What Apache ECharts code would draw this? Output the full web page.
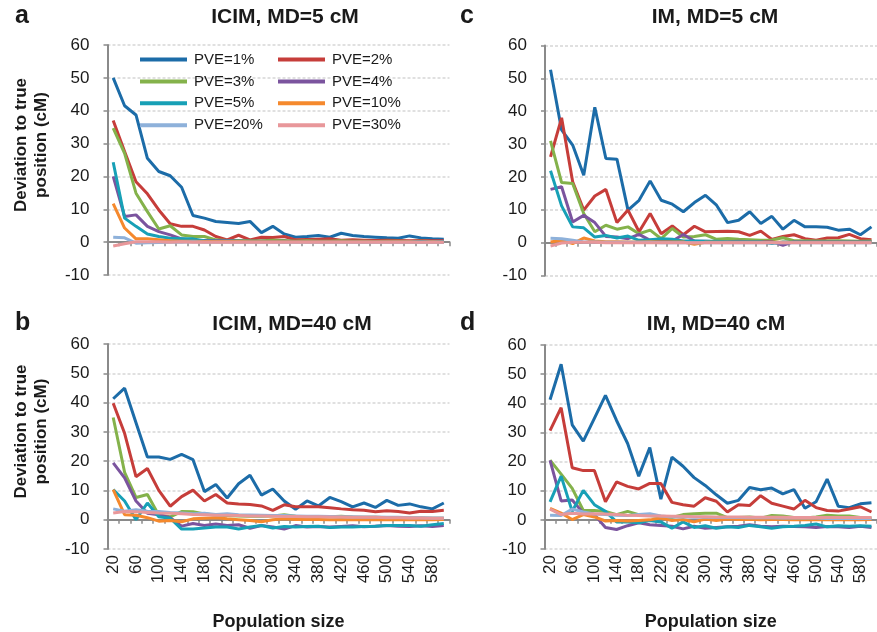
<!DOCTYPE html>
<html><head><meta charset="utf-8">
<script src="https://cdn.jsdelivr.net/npm/echarts@6/dist/echarts.min.js"></script>
<style>html,body{margin:0;padding:0;background:#fff}#c{width:877px;height:632px}</style>
</head><body><div id="c"></div>
<script>
// Categories: population size
const categories = ['20','40','60','80','100','120','140','160','180','200','220','240','260','280','300',
  '320','340','360','380','400','420','440','460','480','500','520','540','560','580','600'];
const seriesNames = ['PVE=1%','PVE=2%','PVE=3%','PVE=4%','PVE=5%','PVE=10%','PVE=20%','PVE=30%'];
const seriesColors = ['#1C6CA8','#C63D3A','#84B24B','#7B549E','#17A0B6','#F5892D','#8EB1DA','#E8979A'];
const panelTitles = ['ICIM, MD=5 cM','IM, MD=5 cM','ICIM, MD=40 cM','IM, MD=40 cM'];
const panelLetters = ['a','c','b','d'];
const yTicks = {min:-10, max:60, step:10};

// Panel a: ICIM, MD=5 cM
const icim5_pve1  = [50.0,41.5,38.7,25.5,21.5,20.2,16.7,8.1,7.3,6.3,6.0,5.7,6.3,2.9,4.8,2.5,1.5,1.7,2.0,1.5,2.7,2.0,1.7,1.5,1.3,1.2,1.9,1.3,1.0,0.9];
const icim5_pve2  = [37.0,27.6,18.4,14.7,9.8,5.6,4.8,4.8,3.7,1.7,0.7,2.1,0.7,1.5,1.4,1.7,0.7,0.8,0.9,1.0,0.6,0.7,0.6,0.5,0.6,0.5,0.4,0.5,0.4,0.4];
const icim5_pve3  = [34.7,27.0,14.9,9.3,4.0,5.0,2.2,1.7,1.7,0.7,0.5,0.5,0.4,0.4,0.6,0.5,0.3,0.4,0.3,0.3,0.4,0.3,0.3,0.2,0.3,0.3,0.2,0.3,0.2,0.2];
const icim5_pve4  = [20.0,7.8,8.3,4.8,3.2,2.2,1.0,0.6,0.5,0.4,0.4,0.3,0.3,0.3,0.2,0.3,0.2,0.2,0.2,0.2,0.2,0.2,0.1,0.2,0.2,0.1,0.2,0.1,0.1,0.1];
const icim5_pve5  = [24.3,7.3,4.8,2.5,1.7,1.2,1.0,1.0,0.4,0.3,0.3,0.3,0.2,0.2,0.2,0.2,0.1,0.2,0.1,0.1,0.1,0.1,0.1,0.1,0.1,0.1,0.1,0.1,0.1,0.1];
const icim5_pve10 = [11.7,4.3,1.0,1.0,0.7,0.4,0.3,0.3,0.2,0.2,0.2,0.2,0.1,0.1,0.1,0.1,0.1,0.1,0.1,0.1,0.1,0.1,0.1,0.1,0.1,0.1,0.1,0.0,0.1,0.0];
const icim5_pve20 = [1.5,1.3,-0.3,-0.2,-0.1,0.0,0.0,0.1,0.0,0.0,0.0,0.0,0.0,0.0,0.0,0.0,0.0,0.0,0.0,0.0,0.0,0.0,0.0,0.0,0.0,0.0,0.0,0.0,0.0,0.0];
const icim5_pve30 = [-1.2,-0.5,0.1,0.1,0.1,0.0,0.1,0.0,0.0,0.0,0.0,0.0,0.0,0.0,0.0,0.0,0.0,0.0,0.0,0.0,0.0,0.0,0.0,0.0,0.0,0.0,0.0,0.0,0.0,0.0];

// Panel c: IM, MD=5 cM
const im5_pve1  = [52.6,34.3,29.7,20.5,41.2,25.6,25.4,9.9,12.9,18.8,12.9,11.7,9.4,12.2,14.4,11.4,6.1,6.8,9.4,5.8,8.0,4.1,6.8,4.8,4.8,4.7,3.8,4.1,2.4,4.8];
const im5_pve2  = [26.1,38.0,18.5,9.9,14.2,16.2,6.1,9.9,3.3,8.9,2.7,5.1,2.4,5.0,3.3,3.4,3.5,3.3,2.2,3.5,1.0,1.9,2.4,1.2,0.7,1.4,1.5,2.5,1.2,0.9];
const im5_pve3  = [31.0,18.3,18.0,8.9,3.3,5.3,4.1,4.8,2.7,3.8,1.2,4.3,1.7,1.9,2.4,1.0,1.3,1.0,0.9,0.7,0.8,1.5,0.6,0.6,0.5,0.5,0.6,0.5,0.4,0.5];
const im5_pve4  = [16.2,17.0,6.3,8.3,6.1,1.9,1.7,1.2,2.5,0.7,0.7,0.5,2.5,0.5,0.4,0.3,0.3,0.4,0.3,0.3,0.3,-0.8,0.3,0.2,0.2,0.2,0.2,0.2,0.2,0.2];
const im5_pve5  = [21.9,11.2,4.8,4.5,1.7,2.2,1.4,2.0,0.7,0.9,1.2,1.0,0.5,0.5,0.4,0.4,0.3,0.3,0.3,0.3,-0.3,0.2,0.2,0.2,0.2,0.2,0.2,0.2,0.2,0.2];
const im5_pve10 = [0.2,0.7,-0.3,1.4,0.5,0.3,0.3,0.2,0.2,0.3,0.2,0.2,0.2,-0.5,0.1,0.1,0.1,0.1,0.1,0.1,0.1,0.1,0.1,0.1,0.1,0.1,0.1,0.1,0.1,0.1];
const im5_pve20 = [1.3,1.2,0.7,0.2,0.2,0.1,0.1,0.1,0.1,0.1,0.0,0.0,0.0,0.0,0.0,0.0,0.0,0.0,0.0,0.0,0.0,0.0,0.0,0.0,0.0,0.0,0.0,0.0,0.0,0.0];
const im5_pve30 = [-1.0,-0.1,0.1,0.1,0.1,0.0,0.0,0.0,0.0,0.0,0.0,0.0,0.0,0.0,0.0,0.0,0.0,0.0,0.0,0.0,0.0,0.0,0.0,0.0,0.0,0.0,0.0,0.0,0.0,0.0];

// Panel b: ICIM, MD=40 cM
const icim40_pve1  = [41.3,44.9,33.1,21.4,21.4,20.6,22.3,20.5,9.6,12.0,7.4,12.3,15.2,8.4,10.5,6.4,3.6,6.4,4.7,7.6,6.2,4.4,5.7,4.2,6.6,4.9,5.4,4.4,3.7,5.7];
const icim40_pve2  = [39.8,29.5,14.7,17.5,10.0,4.6,7.9,10.1,6.4,8.6,5.7,5.4,5.2,4.7,3.2,5.1,4.4,4.4,4.4,4.1,3.7,3.4,3.2,2.7,3.1,2.8,2.3,2.9,2.8,3.2];
const icim40_pve3  = [34.9,16.2,7.6,8.6,1.5,1.0,2.8,2.7,2.0,1.5,1.4,1.3,1.2,1.2,1.3,1.7,1.2,1.1,1.0,1.0,1.2,0.9,0.8,0.8,0.7,0.7,0.6,0.6,0.5,0.5];
const icim40_pve4  = [19.4,14.3,6.4,2.2,1.7,0.7,-2.2,-1.3,-2.0,-1.5,-2.0,-1.7,-2.9,-2.0,-2.5,-3.2,-2.0,-2.5,-2.3,-2.5,-2.3,-2.1,-2.4,-2.2,-2.0,-2.2,-2.3,-2.1,-2.3,-2.0];
const icim40_pve5  = [10.3,6.4,0.0,5.7,1.0,0.5,-3.2,-3.2,-2.8,-2.5,-2.5,-3.2,-2.5,-2.0,-2.8,-2.3,-2.5,-2.3,-2.2,-2.7,-2.5,-2.5,-2.3,-2.2,-2.0,-2.0,-2.0,-2.2,-1.7,-1.3];
const icim40_pve10 = [10.3,1.7,1.5,0.7,-0.5,-0.3,-0.7,0.3,0.5,0.7,0.3,0.0,-0.3,-0.7,0.0,0.3,0.1,0.2,0.1,0.0,0.1,0.0,0.1,0.0,0.0,0.1,0.0,0.1,0.0,0.1];
const icim40_pve20 = [3.7,2.9,3.4,2.9,2.8,2.5,2.3,2.0,2.2,1.8,2.0,1.7,1.6,1.5,1.4,1.4,1.3,1.2,1.2,1.1,1.0,1.0,0.9,0.9,0.8,0.8,0.7,0.7,0.6,0.6];
const icim40_pve30 = [2.3,2.8,2.7,2.5,2.3,2.2,2.0,1.8,1.7,1.5,1.5,1.4,1.3,1.3,1.2,1.1,1.1,1.0,1.0,0.9,0.9,0.8,0.8,0.8,0.7,0.7,0.6,0.6,0.5,0.5];

// Panel d: IM, MD=40 cM
const im40_pve1  = [41.2,53.4,32.6,27.0,34.8,42.7,34.1,26.2,15.0,24.8,7.1,21.5,18.4,14.5,11.8,8.6,5.7,6.7,11.1,10.3,10.9,8.9,10.4,4.0,6.2,14.0,4.7,4.2,5.5,5.9];
const im40_pve2  = [30.6,38.5,17.9,16.9,16.9,6.2,13.0,11.5,10.6,12.5,12.5,6.0,5.2,4.7,7.6,6.4,2.7,5.2,4.9,8.3,5.7,4.7,3.7,6.7,4.2,3.2,3.0,3.7,4.5,2.7];
const im40_pve3  = [20.5,15.7,10.8,3.2,3.2,2.9,1.8,2.9,1.8,1.5,1.0,0.8,1.8,2.1,2.3,2.3,0.8,0.8,1.0,0.6,1.5,1.3,0.8,0.6,1.0,1.6,1.3,1.3,0.8,0.6];
const im40_pve4  = [20.4,6.5,6.8,2.3,1.8,-2.6,-3.3,-2.0,-1.0,-1.7,-1.9,-2.2,-3.1,-2.2,-2.9,-2.6,-2.4,-2.2,-1.7,-2.2,-2.4,-2.2,-2.3,-2.4,-2.6,-2.3,-2.4,-2.6,-2.2,-2.6];
const im40_pve5  = [6.2,15.0,2.9,10.1,5.2,2.9,-0.7,-0.7,-1.0,-0.2,-0.7,-2.9,-0.7,-2.6,-2.0,-2.9,-2.4,-2.6,-1.9,-2.4,-2.9,-2.4,-2.2,-1.9,-1.4,-2.4,-2.0,-2.2,-2.0,-2.2];
const im40_pve10 = [3.9,2.3,0.1,1.8,1.0,-0.4,-0.2,-0.4,-0.2,0.0,0.6,-0.2,0.1,-0.7,0.3,-0.2,0.3,0.1,0.2,0.0,0.1,0.1,0.0,0.1,0.0,0.1,0.0,0.1,0.0,0.1];
const im40_pve20 = [1.6,1.5,3.7,2.7,2.0,1.8,1.6,1.5,1.8,2.1,1.3,1.0,1.0,0.9,0.9,0.8,0.8,0.8,0.7,0.7,0.7,0.6,0.6,0.6,0.6,0.5,0.5,0.5,0.5,0.5];
const im40_pve30 = [3.7,1.8,2.3,2.0,2.1,2.0,1.8,1.6,1.5,1.3,1.3,1.2,1.2,1.1,1.1,1.0,1.0,1.0,0.9,0.9,0.9,0.9,0.8,0.8,0.8,0.8,0.8,0.8,0.8,0.8];

const panelData = [
  [icim5_pve1,icim5_pve2,icim5_pve3,icim5_pve4,icim5_pve5,icim5_pve10,icim5_pve20,icim5_pve30],
  [im5_pve1,im5_pve2,im5_pve3,im5_pve4,im5_pve5,im5_pve10,im5_pve20,im5_pve30],
  [icim40_pve1,icim40_pve2,icim40_pve3,icim40_pve4,icim40_pve5,icim40_pve10,icim40_pve20,icim40_pve30],
  [im40_pve1,im40_pve2,im40_pve3,im40_pve4,im40_pve5,im40_pve10,im40_pve20,im40_pve30]
];

const FONT = "'Liberation Sans', Arial, sans-serif";
const AXIS_GRAY = '#8a8a8a';
const TEXT = '#1a1a1a';

const grids = [
  {left:107.5, top:45,  width:342, height:230},
  {left:545,   top:45.5,width:332, height:230},
  {left:107.5, top:344, width:342, height:238},
  {left:544.5, top:345, width:332.5, height:238}
];
const titleCenters = [[280,2],[710,2],[287,309],[711,309]];
const letterPos = [[10,-1],[455,-1],[10,306],[455,306]];

const xAxes = grids.map((g,i)=>({
  type:'category', gridIndex:i, data:categories, boundaryGap:true,
  axisLine:{show:true, onZero:true, lineStyle:{color:AXIS_GRAY, width:2}},
  axisTick:{show:true, interval:0, length:4, lineStyle:{color:AXIS_GRAY, width:1.5}},
  axisLabel:{show:i>=2, rotate:90, interval:1, fontSize:17, color:TEXT, margin:6, fontFamily:FONT},
  splitLine:{show:false},
  name: i>=2 ? 'Population size' : '',
  nameLocation:'middle', nameGap:64,
  nameTextStyle:{fontSize:18, fontWeight:'bold', color:TEXT, fontFamily:FONT}
}));
const yAxes = grids.map((g,i)=>({
  type:'value', gridIndex:i, min:yTicks.min, max:yTicks.max, interval:yTicks.step,
  axisLine:{show:true, lineStyle:{color:AXIS_GRAY, width:2}},
  axisTick:{show:true, length:4, lineStyle:{color:AXIS_GRAY, width:1.5}},
  axisLabel:{fontSize:17, color:TEXT, margin:18, fontFamily:FONT},
  splitLine:{show:true, lineStyle:{color:'#d6d6d6', width:1.5, type:[3,2]}},
  name: (i===0||i===2) ? 'Deviation to true\nposition (cM)' : '',
  nameLocation:'middle', nameRotate:90, nameGap:56,
  nameTextStyle:{fontSize:17, fontWeight:'bold', color:TEXT, lineHeight:20, fontFamily:FONT, align:'center', padding:[0,0,0,30]}
}));

const series = [];
panelData.forEach((arrs,p)=>{
  arrs.forEach((d,s)=>{
    series.push({
      type:'line', name:seriesNames[s], xAxisIndex:p, yAxisIndex:p, data:d,
      symbol:'none', showSymbol:false,
      lineStyle:{width:3, color:seriesColors[s]},
      itemStyle:{color:seriesColors[s]},
      emphasis:{disabled:true}
    });
  });
});

const titles = [];
panelTitles.forEach((t,i)=>{
  titles.push({text:t, left:titleCenters[i][0], top:titleCenters[i][1], textAlign:'center',
    textStyle:{fontSize:21, fontWeight:'bold', color:TEXT, fontFamily:FONT}});
  titles.push({text:panelLetters[i], left:letterPos[i][0], top:letterPos[i][1],
    textStyle:{fontSize:25, fontWeight:'bold', color:TEXT, fontFamily:FONT}});
});

const legends = seriesNames.map((n,i)=>({
  data:[n], left: (i%2) ? 278 : 140, top: 52 + Math.floor(i/2)*21.9,
  orient:'horizontal', itemWidth:47, itemHeight:4, icon:'rect', padding:0,
  selectedMode:false,
  textStyle:{fontSize:15, color:TEXT, fontFamily:FONT, padding:[0,0,0,2]}
}));

const chart = echarts.init(document.getElementById('c'), null, {renderer:'canvas'});
chart.setOption({
  animation:false,
  backgroundColor:'#ffffff',
  textStyle:{fontFamily:FONT},
  title:titles,
  legend:legends,
  grid:grids,
  xAxis:xAxes,
  yAxis:yAxes,
  series:series
});
</script>
</body></html>
